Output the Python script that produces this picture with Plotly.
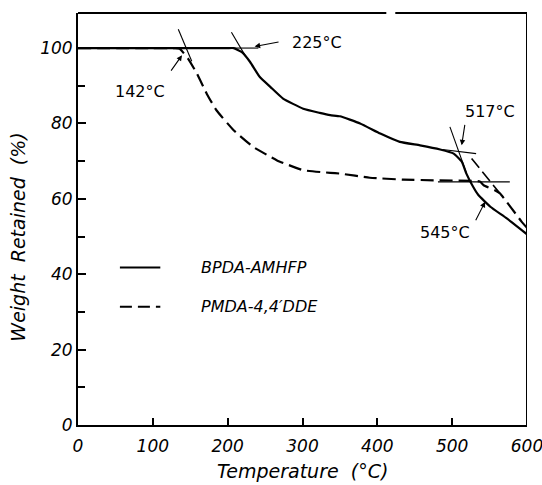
import plotly.graph_objects as go

# ---- data ----
bpda_temp = [0, 100, 180, 200, 208, 219, 230, 243, 257, 274, 301, 323, 337, 350, 377, 404, 430,
             457, 484, 502, 513, 519, 528, 535, 551, 573, 600]
bpda_wt = [100, 100, 100, 100, 100, 98.9, 96.3, 92.3, 89.7, 86.6, 83.9, 82.8, 82.2, 81.9, 80.0, 77.3, 75.1,
           74.2, 73.1, 72.0, 69.8, 66.7, 63.2, 61.0, 57.9, 54.8, 50.6]

pmda_temp = [0, 100, 120, 130, 136, 147, 159, 172, 185, 208, 234, 266, 301, 337, 350, 390, 435,
             479, 537, 542, 557, 564, 593, 600]
pmda_wt = [100, 100, 100, 100, 99.8, 97.2, 93.2, 87.9, 83.5, 78.2, 73.8, 70.2, 67.6, 66.9, 66.7, 65.6, 65.1,
           64.9, 64.6, 63.6, 62.3, 61.4, 53.9, 52.3]

series_names = ["BPDA-AMHFP", "PMDA-4,4\u2032DDE"]
x_ticks = [0, 100, 200, 300, 400, 500, 600]
y_ticks = [0, 20, 40, 60, 80, 100]
x_title = "Temperature  (°C)"
y_title = "Weight  Retained  (%)"

# onset construction lines (temperature, weight) pairs
tangent_lines = [
    ([134, 152], [105, 96.5]),      # 142 °C
    ([205, 224], [104.2, 97.8]),    # 225 °C
    ([200, 241], [100, 100]),       # 100 % baseline extension
    ([497, 519.4], [79.1, 66.7]),   # 517 °C steep
    ([487, 532], [73.1, 72.0]),     # 517 °C plateau
    ([481, 577], [64.5, 64.5]),     # 545 °C plateau
]
tangent_dashed = ([526, 564], [70.7, 61.4])  # 545 °C steep

onset_labels = ["225°C", "142°C", "517°C", "545°C"]

FONT = "DejaVu Sans"
fig = go.Figure()

fig.add_trace(go.Scatter(x=bpda_temp, y=bpda_wt, mode="lines", name=series_names[0],
                         line=dict(color="black", width=2.2, shape="spline", smoothing=0.4),
                         showlegend=False))
fig.add_trace(go.Scatter(x=pmda_temp, y=pmda_wt, mode="lines", name=series_names[1],
                         line=dict(color="black", width=2.2, dash="13px,6px", shape="spline", smoothing=0.4),
                         showlegend=False))
for tx, ty in tangent_lines:
    fig.add_trace(go.Scatter(x=tx, y=ty, mode="lines", line=dict(color="black", width=1.1),
                             showlegend=False, hoverinfo="skip"))
fig.add_trace(go.Scatter(x=tangent_dashed[0], y=tangent_dashed[1], mode="lines",
                         line=dict(color="black", width=1.6, dash="12px,5px"),
                         showlegend=False, hoverinfo="skip"))

# frame (right and top with small gap like the reference)
shp = dict(type="line", line=dict(color="black", width=2))
fig.add_shape(x0=600, x1=600, y0=0, y1=1, xref="x", yref="paper", **shp)
fig.add_shape(x0=0, x1=412, y0=1, y1=1, xref="x", yref="paper", **shp)
fig.add_shape(x0=424, x1=600, y0=1, y1=1, xref="x", yref="paper", **shp)

# legend drawn manually
fig.add_shape(type="line", x0=56, x1=110, y0=41.8, y1=41.8, line=dict(color="black", width=2))
fig.add_shape(type="line", x0=56, x1=110, y0=31.4, y1=31.4, line=dict(color="black", width=2, dash="12px,6px"))
for name, yy in zip(series_names, [41.8, 31.4]):
    fig.add_annotation(x=162, y=yy, text=name, showarrow=False, xanchor="left", yanchor="middle",
                       font=dict(family=FONT, size=16, color="black", style="italic"))

# onset labels
lab_font = dict(family=FONT, size=16, color="black")
fig.add_annotation(x=283, y=101.4, text=onset_labels[0], showarrow=False, xanchor="left", yanchor="middle", font=lab_font)
fig.add_annotation(x=119, y=88.5, text=onset_labels[1], showarrow=False, xanchor="right", yanchor="middle", font=lab_font)
fig.add_annotation(x=514, y=83.2, text=onset_labels[2], showarrow=False, xanchor="left", yanchor="middle", font=lab_font)
fig.add_annotation(x=527, y=51.2, text=onset_labels[3], showarrow=False, xanchor="right", yanchor="middle", font=lab_font)

# arrows
arrows = [((236, 100.4), (270, 101.7)),
          ((139, 98.1), (123, 93.6)),
          ((512.7, 74.2), (517.2, 80)),
          ((544, 59.2), (530.5, 53.9))]
for (hx, hy), (tx, ty) in arrows:
    fig.add_annotation(x=hx, y=hy, ax=tx, ay=ty, axref="x", ayref="y", xref="x", yref="y",
                       text="", showarrow=True, arrowhead=2, arrowsize=1, arrowwidth=1.1,
                       arrowcolor="black")

L, R, T, B, W, H = 78, 15, 13, 60, 542, 485
pw, ph = W - L - R, H - T - B

# axis titles placed like the reference (pixel positions converted to paper coordinates)
title_font = dict(family=FONT, size=19, color="black", style="italic")
fig.add_annotation(x=0.5, y=(H - B - 471) / ph, xref="paper", yref="paper", text=x_title, showarrow=False,
                   xanchor="center", yanchor="middle", font=title_font)
fig.add_annotation(x=(18 - L) / pw, y=49.7, xref="paper", yref="y", text=y_title, showarrow=False,
                   textangle=-90, xanchor="center", yanchor="middle", font=title_font)

tick_font = dict(family=FONT, size=17, color="black", style="italic")
fig.update_xaxes(range=[0, 600], tickvals=x_ticks, ticktext=[str(v) for v in x_ticks],
                 ticks="inside", ticklen=7, tickwidth=1.5, tickcolor="black",
                 showline=True, linewidth=2, linecolor="black", showgrid=False, zeroline=False,
                 tickfont=tick_font, automargin=False, ticklabeloverflow="allow", ticklabelstandoff=5)
fig.update_yaxes(range=[0, 109.3], tickvals=y_ticks, ticktext=[str(v) for v in y_ticks],
                 ticks="inside", ticklen=8, tickwidth=1.5, tickcolor="black",
                 minor=dict(dtick=10, ticks="inside", ticklen=7, tickcolor="black", tickwidth=1.5),
                 showline=True, linewidth=2, linecolor="black", showgrid=False, zeroline=False,
                 tickfont=tick_font, automargin=False)

fig.update_layout(width=W, height=H, margin=dict(l=L, r=R, t=T, b=B),
                  plot_bgcolor="white", paper_bgcolor="white", font=dict(family=FONT, color="black"))

fig.write_html("out.html", config={"displayModeBar": False},
               post_script="document.body.style.margin='0';document.body.style.overflow='hidden';")
